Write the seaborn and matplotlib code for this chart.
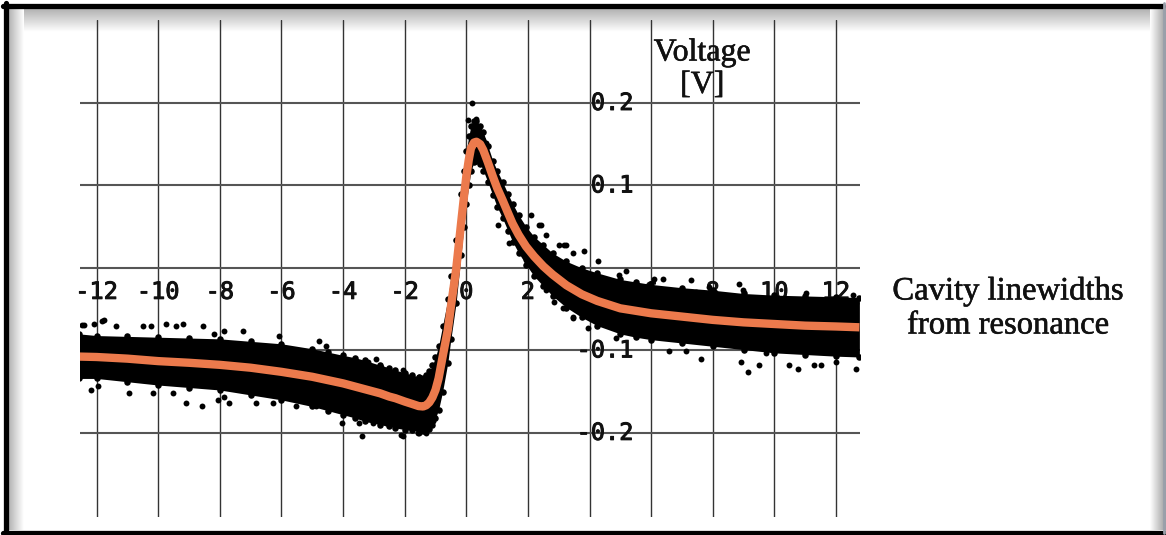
import numpy as np
import pandas as pd
import matplotlib
matplotlib.use("Agg")
import matplotlib.pyplot as plt
import matplotlib.patheffects as pe
import seaborn as sns
from matplotlib.lines import Line2D

# ---------------- data ----------------
x_ticks = [-12, -10, -8, -6, -4, -2, 0, 2, 4, 6, 8, 10, 12]
x_tick_labels = ["-12", "-10", "-8", "-6", "-4", "-2", "0", "2", "4", "6", "8", "10", "12"]
y_grid = [-0.2, -0.1, 0.0, 0.1, 0.2]
y_ticks = [0.2, 0.1, -0.1, -0.2]
y_tick_labels = ["0.2", "0.1", "-0.1", "-0.2"]

# fitted curve (orange)
curve_x = [-12.56, -12, -11, -10, -9, -8, -7, -6, -5, -4.5,
           -4, -3.6, -3.3, -2.8, -2.5, -2.3, -2.0, -1.75, -1.55, -1.4,
           -1.3, -1.2, -1.1, -1.0, -0.9, -0.77, -0.6, -0.5, -0.33, -0.17,
           -0.08, 0.0, 0.08, 0.15, 0.25, 0.33, 0.45, 0.55, 0.7, 0.86,
           1.0, 1.18, 1.35, 1.5, 1.7, 1.94, 2.2, 2.5, 2.8, 3.25,
           3.75, 4.25, 5.0, 5.5, 6.0, 7.0, 8.0, 9.0, 10.0, 11.0,
           12.0, 12.76]
curve_y = [-0.1075, -0.108, -0.110, -0.113, -0.115, -0.1175, -0.121, -0.126, -0.132, -0.136,
           -0.140, -0.144, -0.147, -0.152, -0.156, -0.158, -0.162, -0.165, -0.1675, -0.168,
           -0.1665, -0.163, -0.157, -0.148, -0.134, -0.108, -0.075, -0.047, -0.002, 0.054,
           0.085, 0.111, 0.131, 0.145, 0.152, 0.153, 0.150, 0.143, 0.128, 0.111,
           0.097, 0.082, 0.067, 0.054, 0.040, 0.026, 0.014, 0.002, -0.008, -0.021,
           -0.032, -0.040, -0.049, -0.052, -0.055, -0.059, -0.063, -0.066, -0.068, -0.070,
           -0.071, -0.072]

# dense measured data cloud: upper / lower edge at the same x positions
band_hi = [-0.080, -0.082, -0.083, -0.084, -0.085, -0.086, -0.089, -0.092, -0.098, -0.102,
           -0.106, -0.109, -0.112, -0.118, -0.121, -0.124, -0.127, -0.130, -0.132, -0.133,
           -0.130, -0.125, -0.118, -0.108, -0.095, -0.070, -0.038, -0.010, 0.034, 0.090,
           0.118, 0.142, 0.160, 0.172, 0.178, 0.178, 0.172, 0.165, 0.148, 0.130,
           0.118, 0.104, 0.090, 0.078, 0.064, 0.050, 0.038, 0.028, 0.018, 0.008,
           0.000, -0.006, -0.014, -0.017, -0.020, -0.024, -0.027, -0.031, -0.033, -0.034,
           -0.035, -0.036]
band_lo = [-0.134, -0.134, -0.138, -0.142, -0.145, -0.148, -0.154, -0.160, -0.168, -0.173,
           -0.178, -0.182, -0.186, -0.190, -0.192, -0.194, -0.196, -0.197, -0.198, -0.198,
           -0.197, -0.195, -0.190, -0.182, -0.172, -0.150, -0.115, -0.086, -0.042, 0.016,
           0.050, 0.078, 0.100, 0.118, 0.128, 0.130, 0.126, 0.118, 0.104, 0.088,
           0.074, 0.060, 0.045, 0.032, 0.018, 0.004, -0.010, -0.022, -0.034, -0.048,
           -0.060, -0.070, -0.080, -0.084, -0.087, -0.091, -0.095, -0.099, -0.103, -0.105,
           -0.107, -0.108]

# isolated measured points outside the dense cloud
out_x = [-11.81, -12.40, -12.08, -11.37, -10.51, -10.24, -9.75, -9.43, -9.21, -8.56, -7.86,
         -7.26, -8.18, -6.07, -4.77, -4.56, -2.93, -3.20, -12.46, -11.75,
         -12.19, -11.97, -10.94, -10.18, -9.53, -9.10, -8.58, -8.07, -7.86, -7.69, -6.83,
         -6.29, -5.53, -4.88, -4.02, -3.47, -3.39, -3.04, -2.07, -1.58, -1.31, -2.61, -2.12,
         -1.53, -1.09, -2.07, -1.53, -1.09, -2.77,
         0.20, 0.04, 0.31, 0.53, 0.64, 1.29, 2.10, 2.37, 3.02, 3.18, 3.45, 1.02, 1.40, 1.94,
         2.59, 3.13, 3.45,
         2.42, 2.59, 3.24, 3.83, 4.26, 5.18, 4.97, 6.10, 6.37, 7.29, 8.86, 8.97, 11.03, 12.54,
         12.65, 7.46, 7.89,
         2.86, 3.45, 3.94, 4.86, 6.59, 7.13, 7.62, 8.92, 9.13, 9.51, 10.49, 10.76, 11.30,
         11.52, 12.00, 12.65, 9.73]
out_y = [-0.064, -0.069, -0.068, -0.071, -0.071, -0.071, -0.068, -0.071, -0.068, -0.071, -0.076,
         -0.076, -0.080, -0.083, -0.088, -0.095, -0.111, -0.114, -0.069, -0.063,
         -0.148, -0.143, -0.152, -0.152, -0.152, -0.164, -0.168, -0.160, -0.156, -0.164, -0.164,
         -0.164, -0.168, -0.168, -0.188, -0.188, -0.204, -0.188, -0.204, -0.200, -0.200, -0.188,
         -0.202, -0.200, -0.186, -0.124, -0.132, -0.128, -0.120,
         0.200, 0.179, 0.181, 0.155, 0.151, 0.086, 0.064, 0.052, 0.028, 0.028, 0.018, 0.052,
         0.030, 0.010, -0.027, -0.049, -0.061,
         0.052, 0.040, 0.028, 0.020, 0.008, -0.004, -0.008, -0.014, -0.013, -0.015, -0.019,
         -0.027, -0.031, -0.033, -0.043, -0.029, -0.023,
         -0.041, -0.059, -0.073, -0.085, -0.101, -0.101, -0.110, -0.114, -0.126, -0.118,
         -0.118, -0.122, -0.118, -0.118, -0.114, -0.122, -0.103]

# ---------------- figure ----------------
sns.set_theme(style="white")
plt.rcParams["font.family"] = ["DejaVu Sans"]

W, H = 1166, 535
fig = plt.figure(figsize=(W / 100, H / 100), dpi=100)
fig.patch.set_facecolor("white")

# soft grey shading inside the frame
grad = np.linspace(0.0, 1.0, 64)
ax_t = fig.add_axes([8 / W, 1 - 32 / H, (1160 - 8) / W, 24 / H], zorder=-5)
ax_t.imshow(grad[:, None], cmap="gray", vmin=-2.2, vmax=1.0, aspect="auto",
            extent=[0, 1, 0, 1], origin="upper")
ax_t.axis("off")
ax_l = fig.add_axes([8 / W, 1 - 530 / H, 16 / W, (530 - 8) / H], zorder=-5)
ax_l.imshow(grad[None, :], cmap="gray", vmin=-2.2, vmax=1.0, aspect="auto",
            extent=[0, 1, 0, 1])
ax_l.axis("off")
ax_r = fig.add_axes([1150 / W, 1 - 530 / H, 16 / W, (530 - 8) / H], zorder=-5)
ax_r.imshow(grad[None, ::-1], cmap="gray", vmin=-1.6, vmax=1.0, aspect="auto",
            extent=[0, 1, 0, 1])
ax_r.axis("off")

ax = fig.add_axes([80 / W, 1 - 517 / H, 780 / W, 497 / H])
ax.patch.set_alpha(0)
for s in ax.spines.values():
    s.set_visible(False)

for xv in x_ticks:
    ax.axvline(xv, color="#333333", lw=1.0, zorder=0.5)
for yv in y_grid:
    ax.axhline(yv, color="#555555", lw=1.5, zorder=0.5)

mono = ["DejaVu Sans Mono"]
serif = ["Liberation Serif", "DejaVu Serif"]
thick = [pe.withStroke(linewidth=0.7, foreground="#111111")]
for xv, lab in zip(x_ticks, x_tick_labels):
    ax.text(xv, -0.029, lab, ha="center", va="center", family=mono, fontsize=17,
            color="#111111", zorder=1, path_effects=thick)
for yv, lab in zip(y_ticks, y_tick_labels):
    ax.text(5.43, yv, lab, ha="right", va="center", family=mono, fontsize=17,
            color="#111111", zorder=1, path_effects=thick)

# measured data cloud
ax.fill_between(curve_x, band_lo, band_hi, color="black", lw=0, zorder=2)
edge_df = pd.DataFrame({"x": curve_x + curve_x, "y": band_hi + band_lo})
sns.scatterplot(data=edge_df, x="x", y="y", color="black", s=22, linewidth=0,
                ax=ax, zorder=2, legend=False)
out_df = pd.DataFrame({"x": out_x, "y": out_y})
sns.scatterplot(data=out_df, x="x", y="y", color="black", s=18, linewidth=0,
                ax=ax, zorder=2, legend=False)

# fitted curve
fit_df = pd.DataFrame({"x": curve_x, "y": curve_y})
sns.lineplot(data=fit_df, x="x", y="y", color="#EC7A4C", lw=6, ax=ax, zorder=3,
             sort=False, estimator=None, solid_capstyle="butt", solid_joinstyle="round")
ax.set_xlabel("")
ax.set_ylabel("")
ax.set_xticks([])
ax.set_yticks([])
ax.set_xlim(-12.54, 12.78)
ax.set_ylim(-0.302, 0.3006)

thin = [pe.withStroke(linewidth=0.4, foreground="#111111")]
ax.text(7.66, 0.241, "Voltage\n[V]", ha="center", va="center", family=serif,
        fontsize=23, color="#111111", zorder=1, linespacing=1.15, path_effects=thin)
fig.text(1008 / W, 1 - 308 / H, "Cavity linewidths\nfrom resonance", ha="center",
         va="center", family=serif, fontsize=23.5, color="#111111", linespacing=1.15,
         path_effects=thin)

# black frame
for xs, ys in [([5.5, 5.5], [3, 533]), ([3, 1163], [5.5, 5.5]), ([3, 1166], [532.5, 532.5])]:
    fig.add_artist(Line2D([x / W for x in xs], [1 - y / H for y in ys], color="black",
                          lw=3.8, transform=fig.transFigure))
fig.add_artist(Line2D([1164 / W, 1164 / W], [1 - 3 / H, 1 - 533 / H], color="#9aa0aa",
                      lw=2.0, transform=fig.transFigure))

fig.savefig("out.png", dpi=100, facecolor="white")
